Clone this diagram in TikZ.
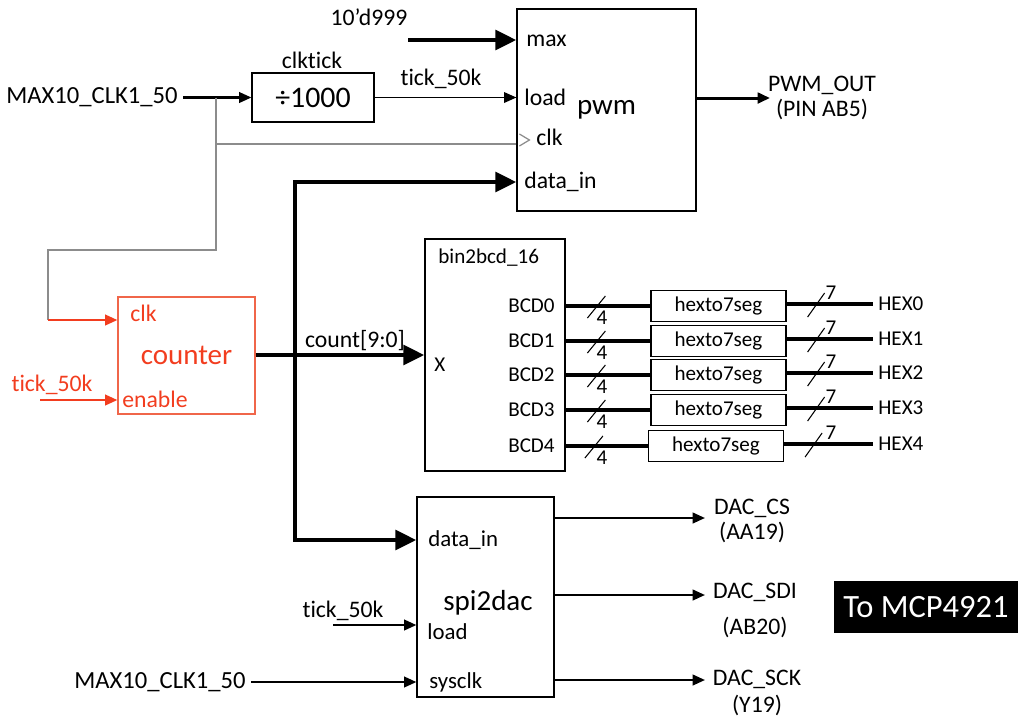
\documentclass[tikz,border=0pt]{standalone}
\usepackage{fontspec}
\setmainfont{Carlito}[Ligatures=NoCommon]
\usetikzlibrary{arrows.meta,positioning}
\definecolor{ctrred}{HTML}{F23D1F}
\definecolor{ctrbox}{HTML}{F0664A}
\definecolor{clkgray}{HTML}{8C8C8C}

\begin{document}
\begin{tikzpicture}[x=0.02cm,y=-0.02cm,
  blk/.style={draw,line width=0.7pt,inner sep=0pt},
  lbl/.style={font=\fontsize{13.5}{16}\selectfont,inner sep=0pt},
  sml/.style={font=\fontsize{12}{14}\selectfont,inner sep=0pt},
  big/.style={font=\fontsize{16.5}{19}\selectfont},
  wire/.style={line width=1.3pt,-{Triangle[length=7pt,width=6pt]}},
  bus/.style={line width=2.8pt,-{Triangle[length=12pt,width=11pt]}},
  nib/.style={line width=2.2pt},
  slash/.style={line width=0.6pt},
  gwire/.style={clkgray,line width=1.2pt}]
  \useasboundingbox (0,0) rectangle (1021,718);
  % blocks
  \node[blk,minimum width=3.58cm,minimum height=4.04cm,big] (pwm) at (606.5,110) {pwm};
  \node[blk,minimum width=2.44cm,minimum height=0.98cm,font=\fontsize{17}{19}\selectfont] (div) at (313,97.5) {÷1000};
  \node[lbl] (divt) at (312,60) {clktick};
  \node[blk,draw=ctrbox,text=ctrred,minimum width=2.74cm,minimum height=2.34cm,big] (ctr) at (186.5,355.5) {counter};
  \node[blk,minimum width=2.8cm,minimum height=4.64cm] (bin) at (495,355) {};
  \node[blk,minimum width=2.74cm,minimum height=4cm] (spi) at (485.5,597) {};
  \node[big,inner sep=0pt] (spit) at (488,603) {spi2dac};
  \node[fill=black,text=white,minimum width=3.68cm,minimum height=1.04cm,font=\fontsize{18.5}{20}\selectfont] (mcp) at (926,607) {To MCP4921};

  % pwm ports and inputs
  \node[lbl,anchor=west] (pmax) at (526,41) {max};
  \node[lbl,anchor=west] (pload) at (524,97) {load};
  \node[lbl,anchor=west] (pclk) at (536,137) {clk};
  \node[lbl,anchor=west] (pdin) at (524,182) {data\_in};
  \node[lbl] (kval) at (369,17) {10’d999};
  \coordinate (kin) at (408,40);
  \draw[bus] (kin) -- (pwm.west |- kin);
  \node[lbl,font=\fontsize{14}{16}\selectfont] (sysin) at (92,97.5) {MAX10\_CLK1\_50};
  \draw[wire,shorten <=3pt] (sysin.east) -- (div.west);
  \draw[wire,line width=0.9pt] (div.east) -- (pwm.west |- div.east);
  \node[lbl] (ptick) at (441,79) {tick\_50k};
  \coordinate (apwm) at (770,98);
  \draw[wire,line width=1.7pt] (pwm.east |- apwm) -- (apwm);
  \node[lbl] (pout) at (822,85) {PWM\_OUT};
  \node[lbl] (ppin) at (822,109) {(PIN AB5)};

  % clock net
  \coordinate (j1) at (216,97.5);
  \coordinate (j2) at (216,144);
  \coordinate (g1) at (216,250);
  \coordinate (g2) at (48,320);
  \draw[gwire] (j1) -- (g1) -| (g2);
  \draw[gwire] (j2) -- (pwm.west |- j2);
  \draw[gwire,line width=0.7pt] (pwm.west |- 0,140) ++(3,-6) -- ++(10,6) -- ++(-10,6);

  % counter
  \node[lbl,text=ctrred,anchor=west] (cclk) at (130,313) {clk};
  \node[lbl,text=ctrred,anchor=west] (cen) at (122,399) {enable};
  \node[lbl,text=ctrred] (ctick) at (52,385) {tick\_50k};
  \coordinate (cti) at (40,400);
  \draw[wire,ctrred] (g2) -- (ctr.west |- g2);
  \draw[wire,ctrred] (cti) -- (ctr.west |- cti);
  \coordinate (jc) at (295,355);
  \draw[bus] (ctr.east |- jc) -- (bin.west |- jc);
  \node[lbl] (cnt) at (355,341) {count[9:0]};
  \draw[bus] (jc) |- (pwm.west |- pdin);

  % bin2bcd_16 and hexto7seg
  \node[sml,anchor=west] (bint) at (438,258) {bin2bcd\_16};
  \node[sml,anchor=west] (binx) at (434,365) {X};
  \foreach \i/\y/\hx in {0/306/718.5,1/341/718.5,2/375/718.5,3/410/718.5,4/446/716} {
    \node[sml,anchor=east] (bcd\i) at (555,\y) {BCD\i};
    \node[blk,minimum width=2.7cm,minimum height=0.62cm,sml] (hex\i) at (\hx,\y) {hexto7seg};
    \node[sml,anchor=west] (hout\i) at (878,\y-2) {HEX\i};
    \draw[nib] (bin.east |- hex\i) -- (hex\i.west);
    \draw[nib,shorten >=3pt] (hex\i.east |- hout\i) -- (hout\i.west);
    \draw[slash] (hex\i.west) ++(-63,12) -- ++(18,-22);
    \node[sml] (nb\i) at (602,\y+12) {4};
    \draw[slash] (hex\i.east |- hout\i) ++(21,13) -- ++(17,-24);
    \node[sml] (ns\i) at (831,\y-13) {7};
  }

  % spi2dac
  \node[lbl,anchor=west,font=\fontsize{13}{15}\selectfont] (sdin) at (428,540) {data\_in};
  \node[lbl,anchor=west,font=\fontsize{13}{15}\selectfont] (sload) at (427,632) {load};
  \node[lbl,anchor=west,font=\fontsize{13}{15}\selectfont] (ssys) at (429,682) {sysclk};
  \draw[bus] (jc) |- (spi.west |- sdin);
  \node[lbl] (stick) at (343,611) {tick\_50k};
  \coordinate (sti) at (333,625);
  \draw[wire] (sti) -- (spi.west |- sti);
  \node[lbl,font=\fontsize{14}{16}\selectfont] (sysin2) at (160,682) {MAX10\_CLK1\_50};
  \draw[wire,shorten <=3pt] (sysin2.east) -- (spi.west |- sysin2);
  \coordinate (acs) at (705,518);
  \coordinate (asdi) at (705,595);
  \coordinate (asck) at (705,680);
  \draw[wire] (spi.east |- acs) -- (acs);
  \draw[wire] (spi.east |- asdi) -- (asdi);
  \draw[wire] (spi.east |- asck) -- (asck);
  \node[lbl] (cs) at (752,508) {DAC\_CS};
  \node[lbl] (csp) at (752,532) {(AA19)};
  \node[lbl] (sdi) at (755,592) {DAC\_SDI};
  \node[lbl] (sdip) at (755,627) {(AB20)};
  \node[lbl] (sck) at (757,679) {DAC\_SCK};
  \node[lbl] (sckp) at (757,705) {(Y19)};
\end{tikzpicture}
\end{document}
